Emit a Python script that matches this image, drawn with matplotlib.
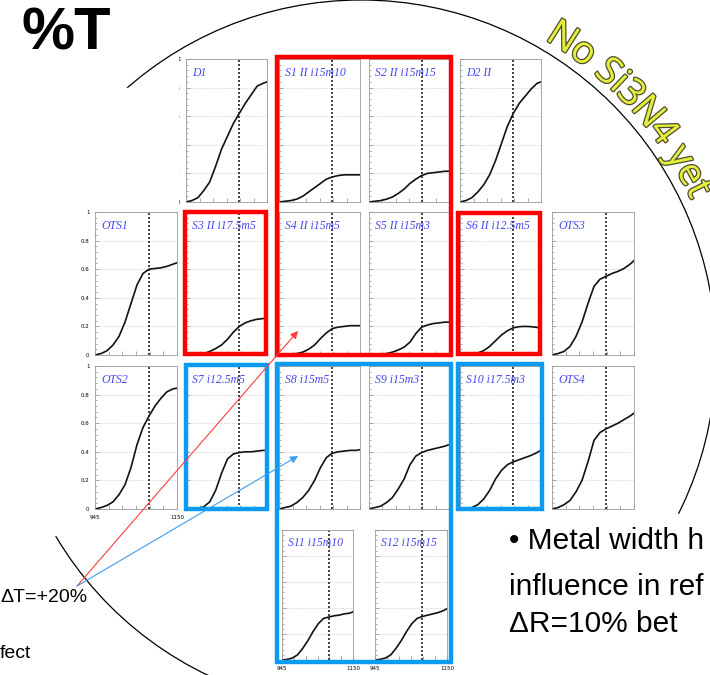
import numpy as np
import matplotlib
matplotlib.use('Agg')
import matplotlib.pyplot as plt
from matplotlib.patches import Rectangle, Circle
from matplotlib.transforms import Bbox
import matplotlib.patheffects as pe

W, H = 710, 675

# longitud de onda (nm) y transmision de cada muestra
wl = [945, 960, 975, 990, 1005, 1020, 1035, 1050, 1065, 1080, 1095, 1110, 1125, 1140, 1150]

d1 = [0.0, 0.01, 0.03, 0.08, 0.14, 0.25, 0.37, 0.46, 0.55, 0.62, 0.69, 0.75, 0.81, 0.83, 0.84]
s1 = [0.0, 0.005, 0.01, 0.02, 0.04, 0.07, 0.10, 0.13, 0.16, 0.175, 0.185, 0.19, 0.19, 0.19, 0.19]
s2 = [0.0, 0.005, 0.01, 0.02, 0.035, 0.06, 0.09, 0.13, 0.16, 0.185, 0.20, 0.205, 0.21, 0.215, 0.215]
d2 = [0.0, 0.01, 0.03, 0.07, 0.12, 0.19, 0.29, 0.41, 0.53, 0.62, 0.69, 0.74, 0.79, 0.83, 0.84]
ots1 = [0.0, 0.01, 0.03, 0.07, 0.13, 0.23, 0.36, 0.49, 0.57, 0.60, 0.605, 0.61, 0.62, 0.635, 0.645]
s3 = [0.0, 0.0, 0.005, 0.01, 0.025, 0.045, 0.07, 0.11, 0.16, 0.20, 0.225, 0.24, 0.25, 0.255, 0.255]
s4 = [0.0, 0.0, 0.005, 0.01, 0.02, 0.04, 0.07, 0.115, 0.155, 0.185, 0.195, 0.20, 0.205, 0.205, 0.205]
s5 = [0.0, 0.0, 0.005, 0.01, 0.02, 0.035, 0.055, 0.09, 0.15, 0.195, 0.21, 0.22, 0.225, 0.23, 0.23]
s6 = [0.0, 0.0, 0.005, 0.015, 0.03, 0.06, 0.10, 0.14, 0.17, 0.19, 0.198, 0.20, 0.198, 0.193, 0.19]
ots3 = [0.0, 0.01, 0.025, 0.06, 0.13, 0.23, 0.36, 0.48, 0.53, 0.55, 0.57, 0.585, 0.605, 0.635, 0.66]
ots2 = [0.0, 0.01, 0.025, 0.05, 0.10, 0.17, 0.29, 0.45, 0.57, 0.65, 0.72, 0.775, 0.82, 0.84, 0.845]
s7 = [0.0, 0.0, 0.005, 0.015, 0.05, 0.13, 0.25, 0.35, 0.385, 0.395, 0.40, 0.40, 0.405, 0.41, 0.41]
s8 = [0.0, 0.01, 0.02, 0.045, 0.08, 0.13, 0.20, 0.29, 0.36, 0.39, 0.40, 0.405, 0.41, 0.41, 0.415]
s9 = [0.0, 0.01, 0.02, 0.045, 0.08, 0.14, 0.21, 0.31, 0.37, 0.395, 0.41, 0.42, 0.43, 0.44, 0.45]
s10 = [0.0, 0.0, 0.01, 0.03, 0.07, 0.13, 0.21, 0.27, 0.31, 0.33, 0.345, 0.36, 0.375, 0.395, 0.41]
ots4 = [0.0, 0.01, 0.03, 0.06, 0.12, 0.20, 0.33, 0.48, 0.535, 0.56, 0.58, 0.60, 0.625, 0.65, 0.67]
s11 = [0.0, 0.005, 0.015, 0.04, 0.09, 0.15, 0.22, 0.28, 0.32, 0.33, 0.34, 0.345, 0.355, 0.36, 0.37]
s12 = [0.0, 0.005, 0.015, 0.04, 0.09, 0.15, 0.22, 0.28, 0.32, 0.335, 0.345, 0.355, 0.365, 0.38, 0.395]

laser = 1080
ylab = ['0', '0.2', '0.4', '0.6', '0.8', '1']

fig = plt.figure(figsize=(W / 100, H / 100), dpi=100)


def px_axes(x0, x1, y0, y1, z=1):
    return fig.add_axes([x0 / W, 1 - y1 / H, (x1 - x0) / W, (y1 - y0) / H], zorder=z)


# fondo: circulo de la oblea
bg = px_axes(0, W, 0, H, z=0)
bg.set_xlim(0, W)
bg.set_ylim(H, 0)
bg.axis('off')
bg.add_patch(Circle((361, 355), 355, fill=False, lw=0.9, color='black'))
bg.add_patch(Rectangle((0, 88), 178, 447, color='white', zorder=3))
bg.add_patch(Rectangle((496, 514), 220, 170, color='white', zorder=3))

# paneles
rows = [(59, 202), (212, 355), (366, 509), (530, 660)]
cols = [(95, 177), (186, 267), (279, 360), (369, 449), (460, 541), (552, 634)]

panels = [
    ('D1', d1, cols[1], rows[0], 'yclip', False),
    ('S1 II i15m10', s1, cols[2], rows[0], None, False),
    ('S2 II i15m15', s2, cols[3], rows[0], None, False),
    ('D2 II', d2, cols[4], rows[0], None, False),
    ('OTS1', ots1, cols[0], rows[1], 'y', False),
    ('S3 II i17.5m5', s3, cols[1], rows[1], None, False),
    ('S4 II i15m5', s4, cols[2], rows[1], None, False),
    ('S5 II i15m3', s5, cols[3], rows[1], None, False),
    ('S6 II i12.5m5', s6, cols[4], rows[1], None, False),
    ('OTS3', ots3, cols[5], rows[1], None, False),
    ('OTS2', ots2, cols[0], rows[2], 'y', True),
    ('S7 i12.5m5', s7, cols[1], rows[2], None, False),
    ('S8 i15m5', s8, cols[2], rows[2], None, False),
    ('S9 i15m3', s9, cols[3], rows[2], None, False),
    ('S10 i17.5m3', s10, cols[4], rows[2], None, False),
    ('OTS4', ots4, cols[5], rows[2], None, False),
    ('S11 i15m10', s11, (282, 353), rows[3], 'top', True),
    ('S12 i15m15', s12, (375, 447), rows[3], None, True),
]

for name, vals, (x0, x1), (y0, y1), ymode, xlabels in panels:
    ax = px_axes(x0, x1, y0, y1)
    ax.plot(wl, vals, color='#111111', lw=1.2)
    ax.axvline(laser, color='#222222', lw=1.2, ls=(0, (1.2, 1.2)))
    ax.set_xlim(945, 1150)
    ax.set_ylim(0, 1)
    ax.set_yticks([0, 0.2, 0.4, 0.6, 0.8, 1])
    ax.set_yticks(np.arange(0, 1.0001, 0.04), minor=True)
    ax.set_xticks(np.linspace(945, 1150, 7))
    ax.grid(axis='y', color='#aaaaaa', lw=0.5, ls=(0, (1, 2)))
    for sp in ax.spines.values():
        sp.set_color('#999999')
        sp.set_linewidth(0.6)
    ax.tick_params(which='both', direction='in', color='#888888', width=0.5,
                   labelsize=4, pad=4)
    ax.tick_params(which='major', length=3)
    ax.tick_params(which='minor', length=1.5)
    if ymode == 'top':
        ax.set_yticklabels(['', '', '', '', '', '1'])
    elif ymode:
        ax.set_yticklabels(ylab)
    else:
        ax.set_yticklabels([])
    if xlabels:
        ax.set_xticklabels(['945', '', '', '', '', '', '1150'])
    else:
        ax.set_xticklabels([])
    if ymode == 'yclip':
        for lb in ax.get_yticklabels():
            lb.set_clip_box(Bbox.from_extents(179, 0, W, H))
            lb.set_clip_on(True)
    ax.text(0.08, 0.9, name, transform=ax.transAxes, color='#4646f0',
            fontsize=8.5, fontstyle='italic', family='Liberation Serif',
            ha='left', va='center')

# capa superior: recuadros, flechas y textos
ov = px_axes(0, W, 0, H, z=3)
ov.set_xlim(0, W)
ov.set_ylim(H, 0)
ov.axis('off')
ov.patch.set_alpha(0)

red = '#ff0000'
blue = '#0d9bf2'
for (x0, y0, x1, y1), c in [((276.5, 56.5, 450.5, 355), red),
                            ((185, 212, 265.5, 354), red),
                            ((458, 213, 540, 354), red),
                            ((185.5, 364.5, 267, 508.5), blue),
                            ((276.5, 364, 450.5, 662), blue),
                            ((458, 364, 542, 508.5), blue)]:
    ov.add_patch(Rectangle((x0, y0), x1 - x0, y1 - y0, fill=False, ec=c,
                           lw=3.2, joinstyle='miter'))

ov.annotate('', xy=(298, 331), xytext=(77, 586),
            arrowprops=dict(arrowstyle='-|>', color='#ff3c3c', lw=0.8,
                            mutation_scale=11, shrinkA=0, shrinkB=0))
ov.annotate('', xy=(298, 456), xytext=(77, 586),
            arrowprops=dict(arrowstyle='-|>', color='#3d9cf5', lw=0.8,
                            mutation_scale=11, shrinkA=0, shrinkB=0))

ov.text(111, 50, '%T', fontsize=43, weight='bold', family='Liberation Sans',
        ha='right', va='baseline')
ov.text(0, 602, 'ΔT=+20%', fontsize=14, family='Liberation Sans', va='baseline')
ov.text(0, 658, 'fect', fontsize=14, family='Liberation Sans', va='baseline')
for yb, txt in [(549, '• Metal width h'), (595, 'influence in ref'),
                (632, 'ΔR=10% bet')]:
    ov.text(509, yb, txt, fontsize=21.5, family='Liberation Sans', va='baseline')

# texto curvo "No Si3N4 yet"
arc_txt = 'No Si3N4 yet'
em = 38.0
widths = {'N': 0.74, 'o': 0.6, ' ': 0.26, 'S': 0.55, 'i': 0.26, '3': 0.57,
          '4': 0.57, 'y': 0.5, 'e': 0.56, 't': 0.35}
r_txt = 375
ang0 = np.deg2rad(57.6)
s = 0
first = widths['N'] * em / 2
for ch in arc_txt:
    w = widths[ch] * em
    sc = s + w / 2
    a = ang0 - (sc - first) / r_txt
    s += w
    if ch == ' ':
        continue
    ov.text(361 + r_txt * np.cos(a), 355 - r_txt * np.sin(a), ch,
            fontsize=27, family='Open Sans', color='#e6ee3c',
            rotation=np.rad2deg(a) - 90, rotation_mode='anchor',
            ha='center', va='center',
            path_effects=[pe.withStroke(linewidth=1.8, foreground='#4d4d30')])

fig.savefig('out.png', dpi=100)
